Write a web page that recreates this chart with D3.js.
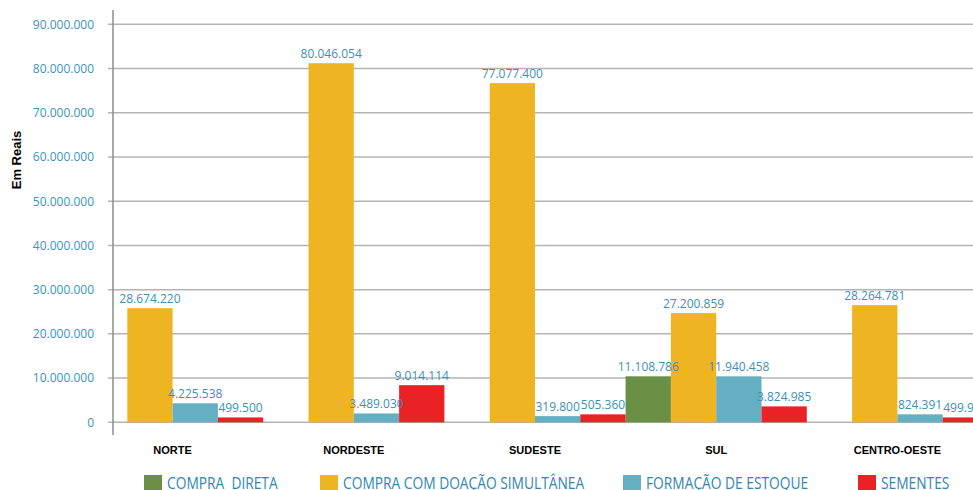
<!DOCTYPE html>
<html>
<head>
<meta charset="utf-8">
<script src="https://cdn.jsdelivr.net/npm/d3@7"></script>
<style>
  body { margin: 0; background: white; }
  svg { display: block; }
</style>
</head>
<body>
<svg id="chart" width="973" height="490"></svg>
<script>
// Dados
const regioes = ['NORTE', 'NORDESTE', 'SUDESTE', 'SUL', 'CENTRO-OESTE']
const series = ['COMPRA  DIRETA', 'COMPRA COM DOAÇÃO SIMULTÂNEA', 'FORMAÇÃO DE ESTOQUE', 'SEMENTES']
const cores = ['#6a8f45', '#efb422', '#64afc2', '#ea2226']

// altura das barras como aparecem no desenho
const compraDireta = [0, 0, 0, 10400000, 0]
const compraDoacao = [25800000, 81200000, 76700000, 24700000, 26500000]
const formacaoEstoque = [4300000, 2000000, 1400000, 10400000, 1800000]
const sementes = [1100000, 8400000, 1800000, 3600000, 1100000]

// rotulos escritos em cima das barras
const rotCompraDireta = [null, null, null, '11.108.786', null]
const rotCompraDoacao = ['28.674.220', '80.046.054', '77.077.400', '27.200.859', '28.264.781']
const rotFormacaoEstoque = ['4.225.538', '3.489.030', '319.800', '11.940.458', '824.391']
const rotSementes = ['499.500', '9.014.114', '505.360', '3.824.985', '499.989']

const yTicks = [0, 10000000, 20000000, 30000000, 40000000, 50000000, 60000000, 70000000, 80000000, 90000000]

const valores = [compraDireta, compraDoacao, formacaoEstoque, sementes]
const rotulos = [rotCompraDireta, rotCompraDoacao, rotFormacaoEstoque, rotSementes]

const svg = d3.select('#chart')
const width = +svg.attr('width')

const br = d3.formatLocale({ decimal: ',', thousands: '.', grouping: [3], currency: ['R$', ''] })
const fmt = br.format(',')

const axisX = 113
const yScale = d3.scaleLinear()
    .domain([0, 90000000])
    .range([422.3, 24.3])

const xScale = d3.scaleBand()
    .domain(regioes)
    .range([82, 988])

const xSub = d3.scaleBand()
    .domain(d3.range(series.length))
    .range([0, xScale.bandwidth()])

// grade
svg.append('g')
    .selectAll('line').data(yTicks)
    .enter().append('line')
        .attr('x1', axisX - 5)
        .attr('x2', width)
        .attr('y1', d => yScale(d))
        .attr('y2', d => yScale(d))
        .attr('stroke', '#b4b4b4')
        .attr('stroke-width', 1.5)

// eixo y
const yAxis = d3.axisLeft(yScale)
    .tickValues(yTicks)
    .tickFormat(fmt)
    .tickSize(0)
    .tickPadding(19)

const yAxisG = svg.append('g')
    .attr('transform', `translate(${axisX}, 0)`)
    .call(yAxis)
yAxisG.select('.domain').remove()
yAxisG.selectAll('text')
    .attr('fill', '#3c93bd')
    .style('font-family', '"Open Sans", sans-serif')
    .style('font-size', '12px')

svg.append('line')
    .attr('x1', axisX).attr('x2', axisX)
    .attr('y1', 10).attr('y2', 435)
    .attr('stroke', '#8c8c8c')
    .attr('stroke-width', 1.5)

svg.append('text')
    .attr('transform', `translate(21, 160) rotate(-90)`)
    .attr('text-anchor', 'middle')
    .style('font-family', '"Liberation Sans", Arial, sans-serif')
    .style('font-weight', 'bold')
    .style('font-size', '13px')
    .text('Em Reais')

// eixo x (so os nomes)
const xAxisG = svg.append('g')
    .attr('transform', `translate(0, 443)`)
    .call(d3.axisBottom(xScale).tickSize(0))
xAxisG.select('.domain').remove()
xAxisG.selectAll('text')
    .attr('fill', '#000')
    .style('font-family', '"Liberation Sans", Arial, sans-serif')
    .style('font-weight', 'bold')
    .style('font-size', '11px')

// barras
const linhas = []
series.forEach((s, si) => {
    regioes.forEach((r, ri) => {
        linhas.push({ si, r, v: valores[si][ri], rot: rotulos[si][ri] })
    })
})

svg.append('g')
    .selectAll('rect').data(linhas.filter(d => d.v > 0))
    .enter().append('rect')
        .attr('x', d => xScale(d.r) + xSub(d.si))
        .attr('y', d => yScale(d.v))
        .attr('width', xSub.bandwidth())
        .attr('height', d => yScale(0) - yScale(d.v))
        .attr('fill', d => cores[d.si])

// rotulos por cima das barras
svg.append('g')
    .selectAll('text').data(linhas.filter(d => d.rot))
    .enter().append('text')
        .attr('x', d => xScale(d.r) + xSub(d.si) + xSub.bandwidth() / 2)
        .attr('y', d => yScale(d.v) - 5)
        .attr('text-anchor', 'middle')
        .attr('fill', '#3c8fb8')
        .style('font-family', '"Open Sans", sans-serif')
        .style('font-size', '12px')
        .text(d => d.rot)

// legenda
const legX = [144, 320, 623, 858]
const leg = svg.append('g')
    .selectAll('g').data(series)
    .enter().append('g')
        .attr('transform', (d, i) => `translate(${legX[i]}, 475)`)
leg.append('rect')
    .attr('width', 18)
    .attr('height', 15)
    .attr('fill', (d, i) => cores[i])
leg.append('text')
    .attr('transform', 'translate(23, 14) scale(0.835, 1)')
    .attr('fill', '#2f86b4')
    .style('font-family', '"Open Sans", sans-serif')
    .style('font-size', '16.5px')
    .style('white-space', 'pre')
    .text(d => d)
</script>
</body>
</html>
